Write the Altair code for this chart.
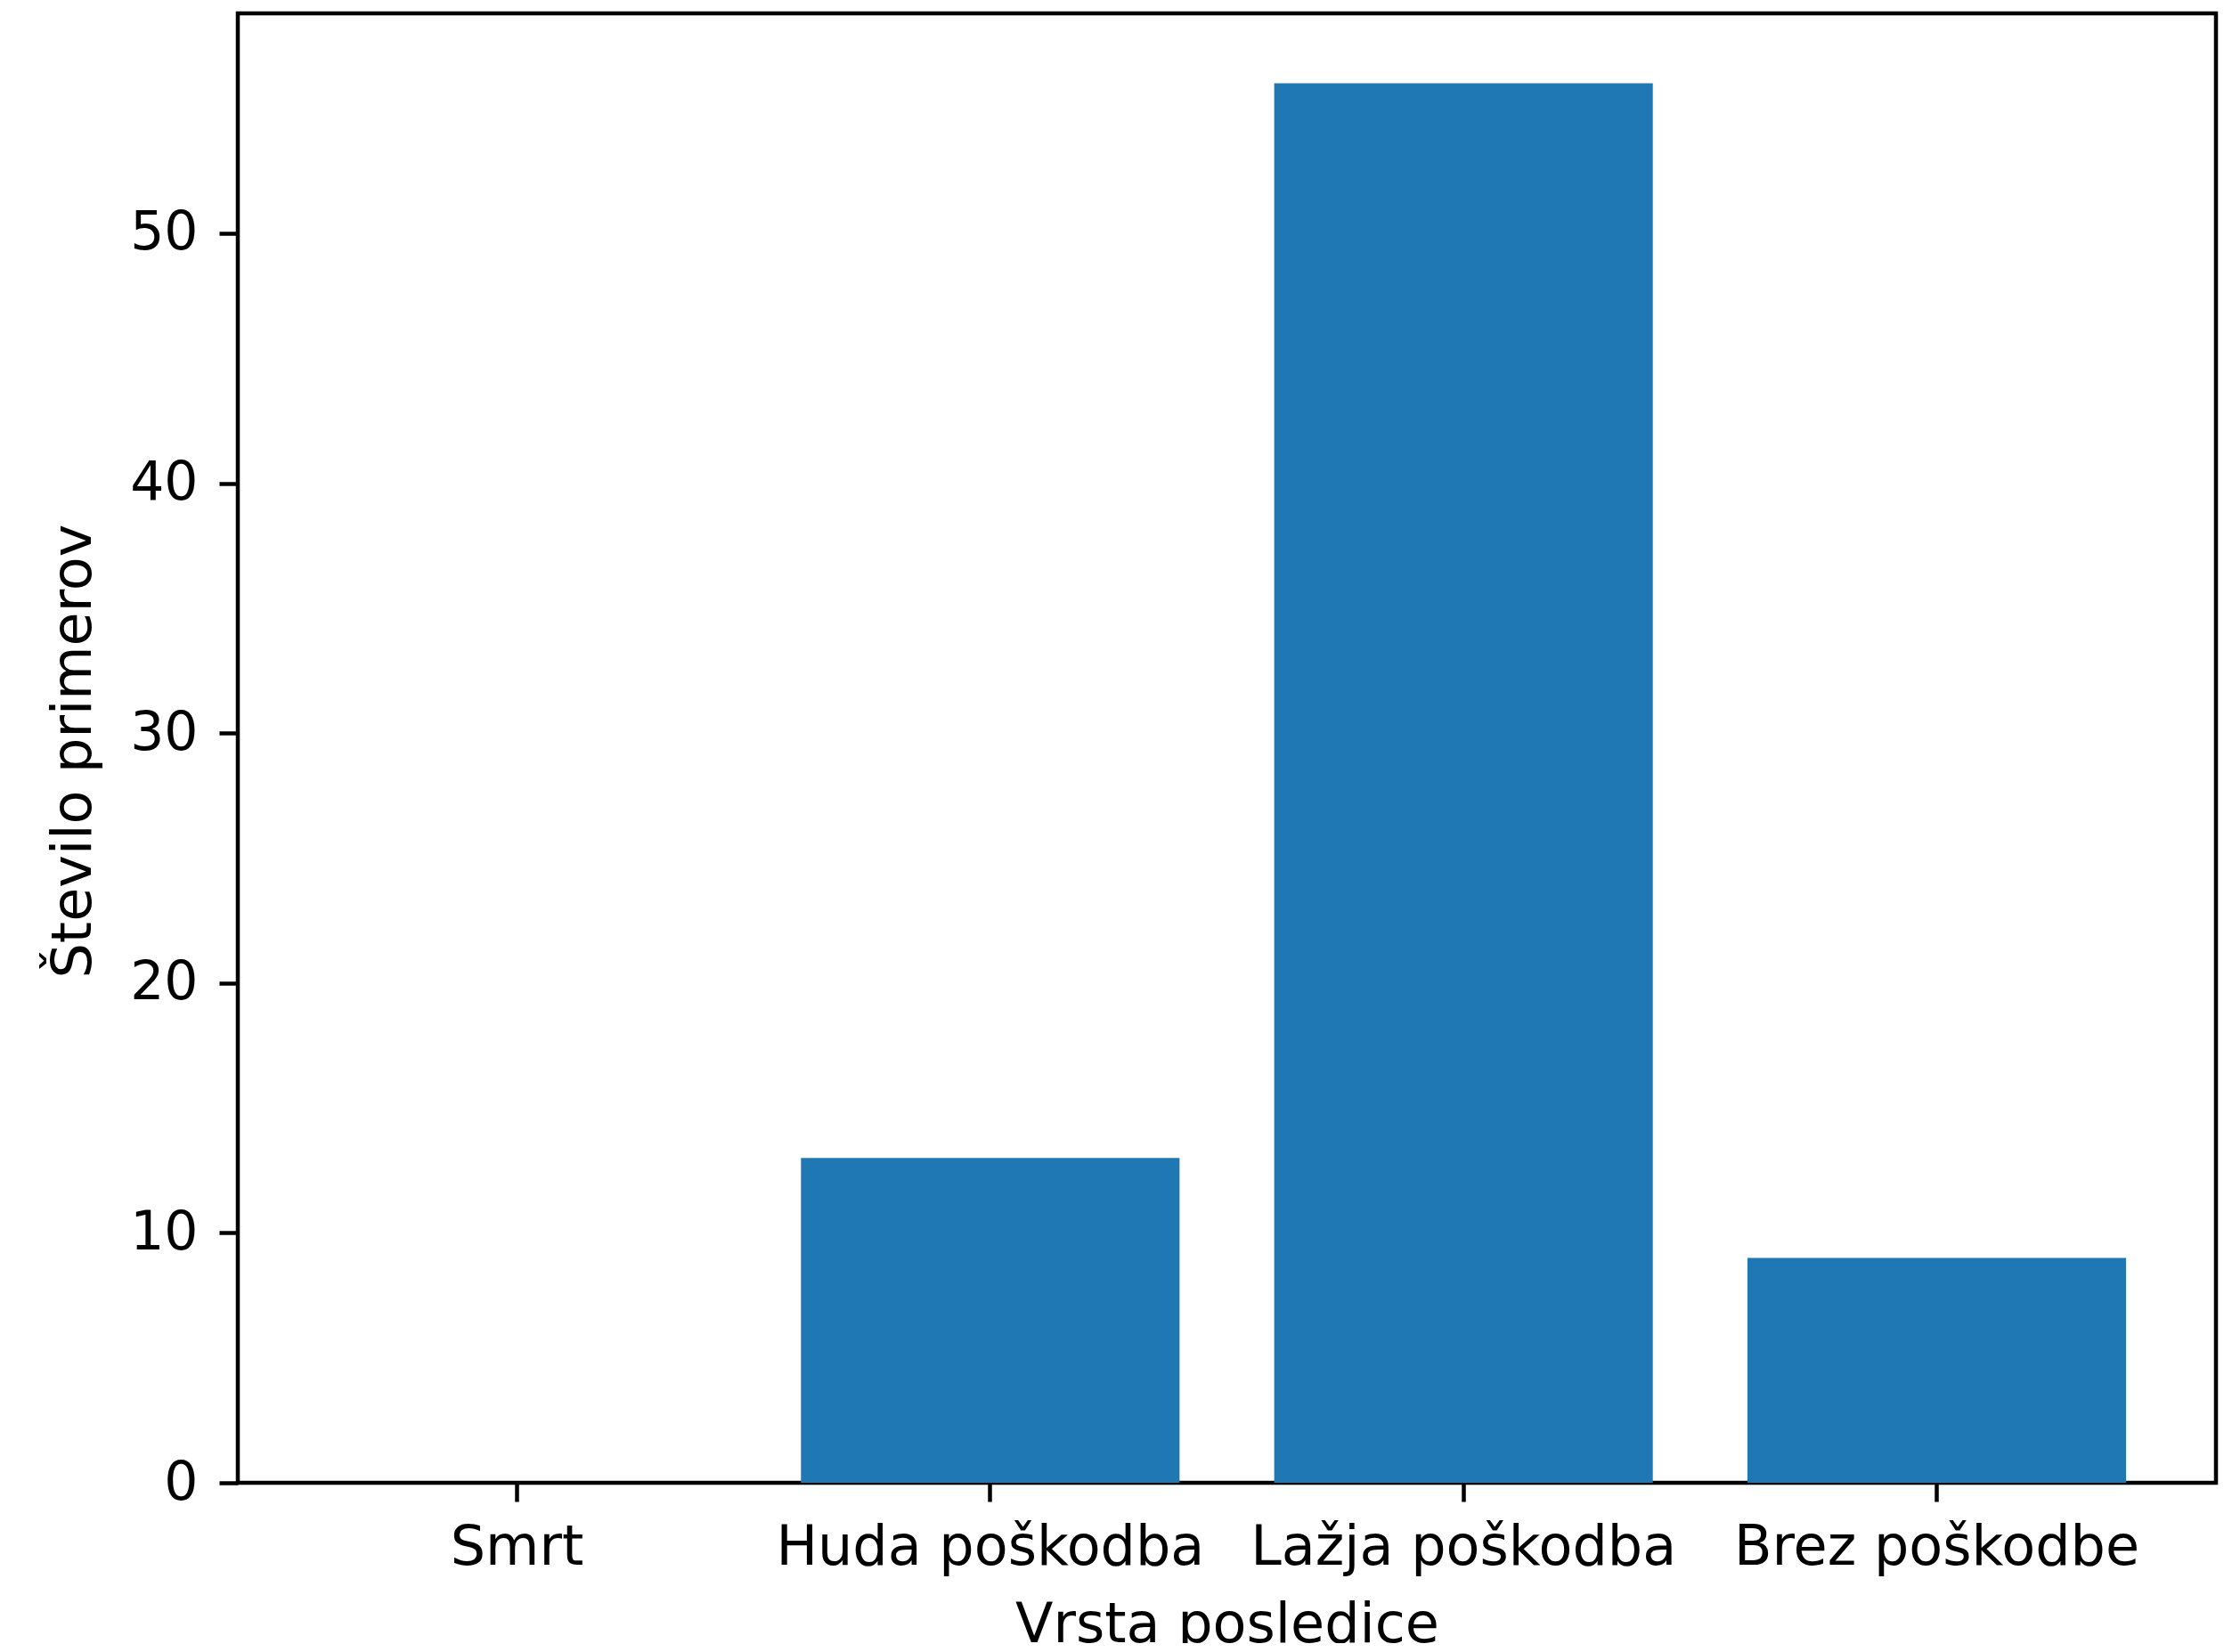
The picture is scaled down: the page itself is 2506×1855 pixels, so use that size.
import altair as alt
import pandas as pd

categories = ["Smrt", "Huda poškodba", "Lažja poškodba", "Brez poškodbe"]
counts = [0, 13, 56, 9]
y_ticks = [0, 10, 20, 30, 40, 50]

df = pd.DataFrame({"kategorija": categories, "stevilo": counts})

FONT = "DejaVu Sans"
FS = 62
FS_Y = 60

chart = alt.Chart(df).mark_bar(color="#1f77b4").encode(
    x=alt.X(
        "kategorija:N",
        sort=categories,
        scale=alt.Scale(paddingInner=0.2, paddingOuter=0.19),
        axis=alt.Axis(
            title="Vrsta posledice",
            labelAngle=0,
            labelFont=FONT,
            labelFontSize=FS,
            labelColor="black",
            labelPadding=21,
            labelLimit=2000,
            tickSize=21,
            tickWidth=4.5,
            tickColor="black",
            domain=False,
            grid=False,
            titleFont=FONT,
            titleFontSize=FS,
            titleFontWeight="normal",
            titleColor="black",
            titleBaseline="alphabetic",
            titleY=178,
        ),
    ),
    y=alt.Y(
        "stevilo:Q",
        scale=alt.Scale(domain=[0, 58.8], nice=False),
        axis=alt.Axis(
            title="Število primerov",
            values=y_ticks,
            labelFont=FONT,
            labelFontSize=FS_Y,
            labelColor="black",
            labelPadding=24,
            tickSize=21,
            tickWidth=4.5,
            tickColor="black",
            domain=False,
            grid=False,
            titleFont=FONT,
            titleFontSize=FS,
            titleFontWeight="normal",
            titleColor="black",
            titleBaseline="alphabetic",
            titleX=-166,
            titleY=828,
            titleAngle=270,
            titleAlign="center",
        ),
    ),
).properties(
    width=2221,
    height=1650,
    autosize=alt.AutoSizeParams(type="none"),
    padding={"left": 259, "top": 7, "right": 10, "bottom": 180},
).configure_view(
    stroke="black",
    strokeWidth=4.5,
)

chart.save("out.html", embed_options={"renderer": "svg", "actions": False})
